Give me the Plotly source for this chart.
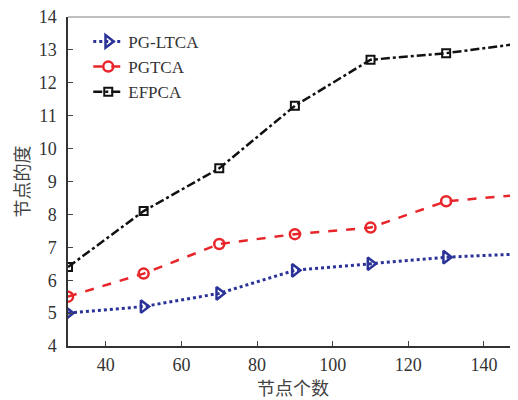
import plotly.graph_objects as go

x_nodes = [30, 50, 70, 90, 110, 130, 150]
pg_ltca = [5.0, 5.2, 5.6, 6.3, 6.5, 6.7, 6.8]
pgtca = [5.5, 6.2, 7.1, 7.4, 7.6, 8.4, 8.6]
efpca = [6.4, 8.1, 9.4, 11.3, 12.7, 12.9, 13.2]
x_ticks = [40, 60, 80, 100, 120, 140]
y_ticks = [4, 5, 6, 7, 8, 9, 10, 11, 12, 13, 14]

fig = go.Figure()
fig.add_trace(go.Scatter(
    x=x_nodes, y=pg_ltca, name="PG-LTCA", mode="lines+markers",
    line=dict(color="#2b3399", width=3, dash="dot"),
    marker=dict(symbol="triangle-right-open", size=11, color="#2b3399", line=dict(width=2.5))))
fig.add_trace(go.Scatter(
    x=x_nodes, y=pgtca, name="PGTCA", mode="lines+markers",
    line=dict(color="#e8252a", width=2.5, dash="dash"),
    marker=dict(symbol="circle-open", size=10, color="#e8252a", line=dict(width=2.5))))
fig.add_trace(go.Scatter(
    x=x_nodes, y=efpca, name="EFPCA", mode="lines+markers",
    line=dict(color="#111111", width=2.5, dash="dashdot"),
    marker=dict(symbol="square-open", size=8, color="#111111", line=dict(width=2))))

font_serif = "Liberation Serif, Times New Roman, serif"
cjk = "Noto Sans CJK SC"
fig.update_layout(
    width=510, height=392,
    margin=dict(l=60, r=0, t=9, b=54),
    plot_bgcolor="white", paper_bgcolor="white",
    font=dict(family=font_serif, size=18, color="#333"),
    showlegend=True,
    legend=dict(x=0.045, y=0.979, xanchor="left", yanchor="top",
                bgcolor="rgba(0,0,0,0)", font=dict(family=font_serif, size=17, color="#333"),
                itemwidth=30, tracegroupgap=0),
    xaxis=dict(range=[30, 149], tickvals=x_ticks, ticks="inside", ticklen=5,
               showgrid=False, zeroline=False, showline=True, linecolor="#333",
               linewidth=1.5, mirror=False, automargin=False, ticklabelstandoff=2,
               ticklabeloverflow="allow",
               title=dict(text="节点个数", font=dict(family=cjk, size=18, color="#444"), standoff=2)),
    yaxis=dict(range=[4, 14], tickvals=y_ticks, ticks="inside", ticklen=5,
               showgrid=False, zeroline=False, showline=True, linecolor="#333",
               linewidth=1.5, automargin=False, ticklabelstandoff=6,
               ticklabeloverflow="allow",
               title=dict(text="节点的度", font=dict(family=cjk, size=18, color="#444"), standoff=6)),
)
fig.add_shape(type="line", xref="paper", yref="paper", x0=0, x1=1, y0=1, y1=1,
              line=dict(color="#aaa", width=1.5))
fig.write_html("out.html")
